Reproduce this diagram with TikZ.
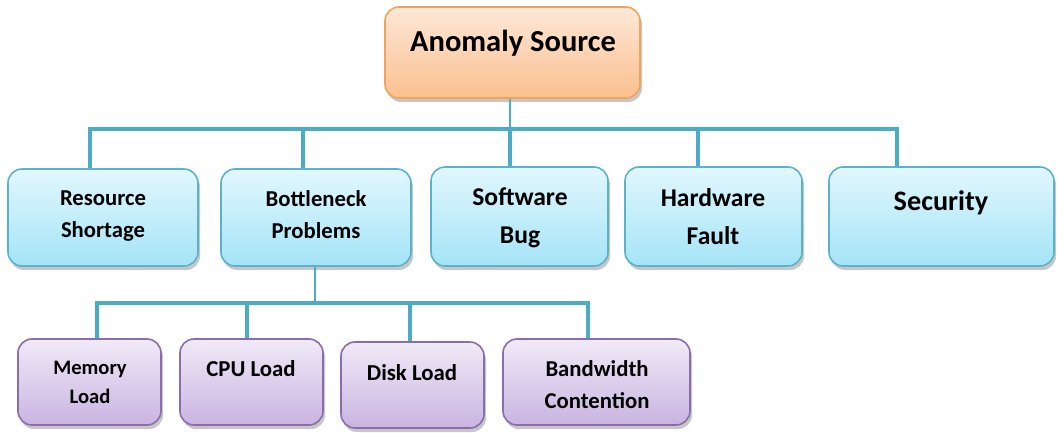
\documentclass[tikz,border=0pt]{standalone}
\usepackage{fontspec}
\setmainfont{Carlito}
\usetikzlibrary{shadows}
\definecolor{linec}{HTML}{4BACC6}
\definecolor{orbord}{HTML}{F4A259}
\definecolor{ortop}{HTML}{FDE8D8}
\definecolor{orbot}{HTML}{FBC08F}
\definecolor{blbord}{HTML}{5AB3CB}
\definecolor{bltop}{HTML}{E2F7FD}
\definecolor{blbot}{HTML}{A4E4F7}
\definecolor{pubord}{HTML}{8A6DAE}
\definecolor{putop}{HTML}{F0EAF7}
\definecolor{pubot}{HTML}{C9B4E1}
\tikzset{
  boxbase/.style={rounded corners=14pt, line width=1.6pt, inner sep=0pt,
    drop shadow={shadow xshift=2pt, shadow yshift=-4pt, opacity=0.22, fill=black}},
  rootbox/.style={boxbase, draw=orbord, top color=ortop, bottom color=orbot},
  bluebox/.style={boxbase, draw=blbord, top color=bltop, bottom color=blbot},
  purplebox/.style={boxbase, draw=pubord, top color=putop, bottom color=pubot},
  lbl/.style 2 args={font=\bfseries\fontsize{#1}{#2}\selectfont, align=center, inner sep=0pt},
  busline/.style={draw=linec, line width=4pt},
  thinline/.style={draw=linec, line width=1.8pt},
}
\begin{document}
\begin{tikzpicture}[x=1pt,y=-1pt]
\useasboundingbox (0,0) rectangle (1057,432);
% boxes
\node[rootbox, minimum width=255pt, minimum height=91pt] (root) at (512.5,52.5) {};
\node[bluebox, minimum width=190pt, minimum height=97pt] (rs) at (103,217.5) {};
\node[bluebox, minimum width=190pt, minimum height=97pt] (bn) at (316,217.5) {};
\node[bluebox, minimum width=177pt, minimum height=99pt] (sb) at (519.5,216.5) {};
\node[bluebox, minimum width=177pt, minimum height=99pt] (hf) at (713.5,216.5) {};
\node[bluebox, minimum width=225pt, minimum height=99pt] (sec) at (941.5,216.5) {};
\node[purplebox, minimum width=143pt, minimum height=86pt] (ml) at (89.5,382) {};
\node[purplebox, minimum width=143pt, minimum height=86pt] (cpu) at (251.5,382) {};
\node[purplebox, minimum width=143pt, minimum height=86pt] (dl) at (412.5,385) {};
\node[purplebox, minimum width=187pt, minimum height=86pt] (bw) at (596.5,382) {};
% texts
\node[lbl={30.5}{34}] (troot) at (513,43) {Anomaly Source};
\node[lbl={22.7}{32}] (trs) at (103,216) {Resource\\Shortage};
\node[lbl={22.7}{32}] (tbn) at (316,215) {Bottleneck\\Problems};
\node[lbl={25.6}{38}] (tsb) at (520,218) {Software\\Bug};
\node[lbl={25.6}{38}] (thf) at (713,216.5) {Hardware\\Fault};
\node[lbl={28.2}{32}] (tsec) at (941,203) {Security};
\node[lbl={20.6}{29}] (tml) at (90,382) {Memory\\Load};
\node[lbl={22.8}{26}] (tcpu) at (251,369) {CPU Load};
\node[lbl={22.8}{26}] (tdl) at (412,373) {Disk Load};
\node[lbl={22.7}{32}] (tbw) at (597,385) {Bandwidth\\Contention};
% top connectors
\coordinate (a1) at (90,129);
\coordinate (a2) at (303,129);
\coordinate (a3) at (510,129);
\coordinate (a4) at (698,129);
\coordinate (a5) at (897,129);
\draw[thinline] (root.south -| a3) -- (a3);
\draw[busline] (a1 |- rs.north) -- (a1) -- (a5) -- (a5 |- sec.north);
\draw[busline] (a2) -- (a2 |- bn.north);
\draw[busline] (a3) -- (a3 |- sb.north);
\draw[busline] (a4) -- (a4 |- hf.north);
% bottom connectors
\coordinate (b1) at (97,303);
\coordinate (b2) at (247,303);
\coordinate (b3) at (410,303);
\coordinate (b4) at (588,303);
\coordinate (bs) at (315,303);
\draw[thinline] (bn.south -| bs) -- (bs);
\draw[busline] (b1 |- ml.north) -- (b1) -- (b4) -- (b4 |- bw.north);
\draw[busline] (b2) -- (b2 |- cpu.north);
\draw[busline] (b3) -- (b3 |- dl.north);
\end{tikzpicture}
\end{document}
